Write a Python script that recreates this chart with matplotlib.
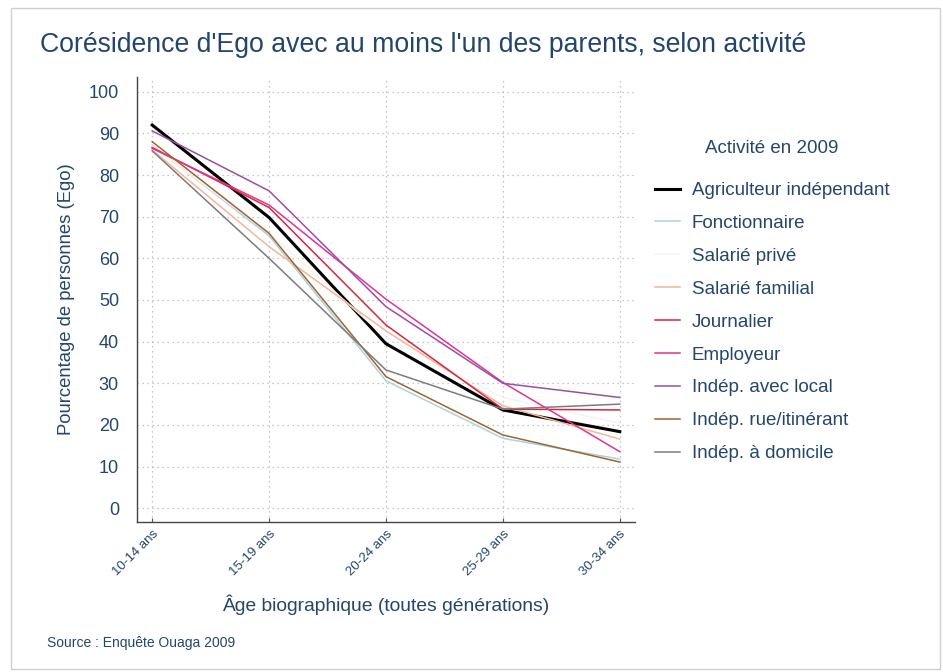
import matplotlib
matplotlib.use("Agg")
import matplotlib.pyplot as plt
from matplotlib.patches import Rectangle

plt.rcParams['font.family'] = ['Liberation Sans', 'DejaVu Sans']

TXT = '#24466e'

# Data
age_groups = ['10-14 ans', '15-19 ans', '20-24 ans', '25-29 ans', '30-34 ans']

agriculteur = [92.0, 69.8, 39.5, 23.6, 18.4]
fonctionnaire = [87.2, 65.4, 30.6, 16.8, 11.8]
salarie_prive = [87.0, 66.0, 41.0, 26.6, 20.4]
salarie_familial = [86.0, 62.8, 42.6, 24.6, 16.6]
journalier = [86.6, 72.2, 44.0, 23.8, 23.6]
employeur = [86.4, 72.8, 50.2, 30.2, 13.6]
indep_local = [90.6, 76.2, 48.4, 30.0, 26.6]
indep_rue = [88.0, 66.0, 31.6, 17.6, 11.1]
indep_domicile = [85.8, 60.0, 33.2, 23.8, 25.0]

series = [
    ('Agriculteur indépendant', agriculteur, '#000000', 2.2),
    ('Fonctionnaire', fonctionnaire, '#a6d3ea', 1.1),
    ('Salarié privé', salarie_prive, '#f4f4f4', 1.1),
    ('Salarié familial', salarie_familial, '#f7b597', 1.1),
    ('Journalier', journalier, '#d7263d', 1.1),
    ('Employeur', employeur, '#e3338f', 1.1),
    ('Indép. avec local', indep_local, '#9c4da8', 1.1),
    ('Indép. rue/itinérant', indep_rue, '#a1642a', 1.1),
    ('Indép. à domicile', indep_domicile, '#7c7c7c', 1.1),
]

fig = plt.figure(figsize=(9.43, 6.72), dpi=100)
fig.patches.append(Rectangle((11 / 943, 0.004), 929 / 943, 1 - 8 / 672 - 0.004,
                             transform=fig.transFigure, fill=False,
                             edgecolor='#d0d0d0', linewidth=1.0))

ax = fig.add_axes([0.1453, 0.2232, 0.528, 0.662])
x = list(range(len(age_groups)))
for name, vals, col, lw in series:
    ax.plot(x, vals, color=col, linewidth=lw, label=name, solid_joinstyle='miter')

ax.set_xlim(-0.13, 4.13)
ax.set_ylim(-3.3, 103.5)
ax.set_yticks(range(0, 101, 10))
ax.set_xticks(x)
ax.set_xticklabels(age_groups, rotation=45, ha='right', rotation_mode='anchor',
                   fontsize=9.5, color=TXT)
ax.tick_params(axis='y', labelsize=13, colors=TXT, length=0, pad=13)
ax.tick_params(axis='x', colors='#555555', length=3, direction='in', pad=4)
for lab in ax.get_xticklabels():
    lab.set_color(TXT)

ax.grid(True, color='#b5b5b5', linestyle=(0, (1, 3)), linewidth=0.9)
for s in ['top', 'right']:
    ax.spines[s].set_visible(False)
for s in ['left', 'bottom']:
    ax.spines[s].set_color('#444444')
    ax.spines[s].set_linewidth(1.0)

ax.set_ylabel('Pourcentage de personnes (Ego)', fontsize=13.3, color=TXT, labelpad=10)
ax.set_xlabel('Âge biographique (toutes générations)', fontsize=13.9, color=TXT, labelpad=12)

fig.text(40 / 943, 1 - 45 / 672, "Corésidence d'Ego avec au moins l'un des parents, selon activité",
         fontsize=19.2, color=TXT, va='center', ha='left')
fig.text(47 / 943, 1 - 643 / 672, 'Source : Enquête Ouaga 2009',
         fontsize=10, color=TXT, va='center', ha='left')

leg = ax.legend(loc='upper left', bbox_to_anchor=(655 / 943, 1 - 140 / 672),
                bbox_transform=fig.transFigure, frameon=False, borderpad=0,
                borderaxespad=0,
                title='Activité en 2009', fontsize=13.5, title_fontsize=13.5,
                handlelength=1.35, handletextpad=0.6, labelspacing=0.84)
leg.get_title().set_color(TXT)
leg._legend_box.sep = 18
for t in leg.get_texts():
    t.set_color(TXT)

fig.savefig('out.png', dpi=100)
